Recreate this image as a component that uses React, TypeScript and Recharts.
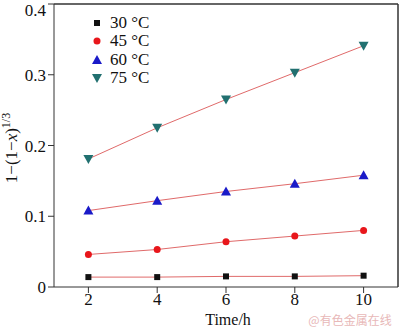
import { Line, LineChart, ReferenceLine, XAxis, YAxis } from 'recharts';

const times = [2, 4, 6, 8, 10];
const s30 = [0.014, 0.014, 0.015, 0.015, 0.016];
const s45 = [0.046, 0.053, 0.064, 0.072, 0.08];
const s60 = [0.108, 0.122, 0.135, 0.146, 0.158];
const s75 = [0.181, 0.225, 0.265, 0.303, 0.341];
const xTicks = [2, 4, 6, 8, 10];
const yTicks = [0, 0.1, 0.2, 0.3, 0.4];

const series = [
  { key: 's30', name: '30 °C', color: '#111111', shape: 'square' },
  { key: 's45', name: '45 °C', color: '#e8161b', shape: 'circle' },
  { key: 's60', name: '60 °C', color: '#1a1ac8', shape: 'up' },
  { key: 's75', name: '75 °C', color: '#217070', shape: 'down' },
];

const data = times.map((t, i) => ({ t, s30: s30[i], s45: s45[i], s60: s60[i], s75: s75[i] }));

const font = 'Liberation Serif, Times New Roman, serif';
const axisColor = '#333333';
const fitColor = '#e06a6a';

function Marker({ cx, cy, shape, color }: { cx: number; cy: number; shape: string; color: string }) {
  if (shape === 'square') return <rect x={cx - 3} y={cy - 3} width={6} height={6} fill={color} />;
  if (shape === 'circle') return <circle cx={cx} cy={cy} r={3.5} fill={color} />;
  if (shape === 'up')
    return <polygon points={`${cx},${cy - 5} ${cx - 5},${cy + 4} ${cx + 5},${cy + 4}`} fill={color} />;
  return <polygon points={`${cx},${cy + 5} ${cx - 5},${cy - 4} ${cx + 5},${cy - 4}`} fill={color} />;
}

function LegendBox() {
  return (
    <div
      style={{
        position: 'absolute',
        left: 90,
        top: 14,
        fontFamily: font,
        fontSize: 17,
        color: '#111',
        lineHeight: '18px',
      }}
    >
      {series.map((s) => (
        <div key={s.key} style={{ display: 'flex', alignItems: 'center', height: 18.3 }}>
          <svg width={14} height={14} style={{ marginRight: 6 }}>
            <Marker cx={7} cy={7} shape={s.shape} color={s.color} />
          </svg>
          <span>{s.name}</span>
        </div>
      ))}
    </div>
  );
}

function YLabel() {
  return (
    <text
      transform="translate(17, 148) rotate(-90)"
      textAnchor="middle"
      fontFamily={font}
      fontSize={17}
      fill="#111"
    >
      1−(1−<tspan fontStyle="italic">x</tspan>)
      <tspan dy={-7} fontSize={12}>1/3</tspan>
    </text>
  );
}

export default function App() {
  const tick = { fontFamily: font, fontSize: 17, fill: '#111' };
  return (
    <div style={{ position: 'absolute', left: 0, top: 0, width: 400, height: 327, background: '#fff' }}>
      <LineChart width={400} height={327} data={data} margin={{ top: 4, right: 2, bottom: 0, left: 0 }}>
        <XAxis
          dataKey="t"
          type="number"
          domain={[1, 11]}
          ticks={xTicks}
          tick={tick}
          tickSize={6}
          tickMargin={0}
          height={40}
          stroke={axisColor}
          tickLine={{ stroke: axisColor }}
        />
        <YAxis
          domain={[0, 0.4]}
          ticks={yTicks}
          tick={tick}
          tickSize={6}
          width={54}
          stroke={axisColor}
          tickFormatter={(v: number) => (v === 0 ? '0' : v.toFixed(1))}
          label={<YLabel />}
        />
        <ReferenceLine y={0.4} stroke={axisColor} strokeWidth={1.5} ifOverflow="visible" />
        <ReferenceLine x={11} stroke={axisColor} strokeWidth={1.5} ifOverflow="visible" />
        {series.map((s) => (
          <Line
            key={s.key}
            dataKey={s.key}
            name={s.name}
            stroke={fitColor}
            strokeWidth={1}
            isAnimationActive={false}
            dot={(p: any) => <Marker key={`${s.key}-${p.index}`} cx={p.cx} cy={p.cy} shape={s.shape} color={s.color} />}
            activeDot={false}
          />
        ))}
        <text x={228} y={325} textAnchor="middle" fontFamily={font} fontSize={16} fill="#111">
          Time/h
        </text>
        <text x={350} y={325} textAnchor="middle" fontFamily="Noto Sans CJK SC" fontSize={12} fill="#e8b8b8">
          @有色金属在线
        </text>
      </LineChart>
      <LegendBox />
    </div>
  );
}
